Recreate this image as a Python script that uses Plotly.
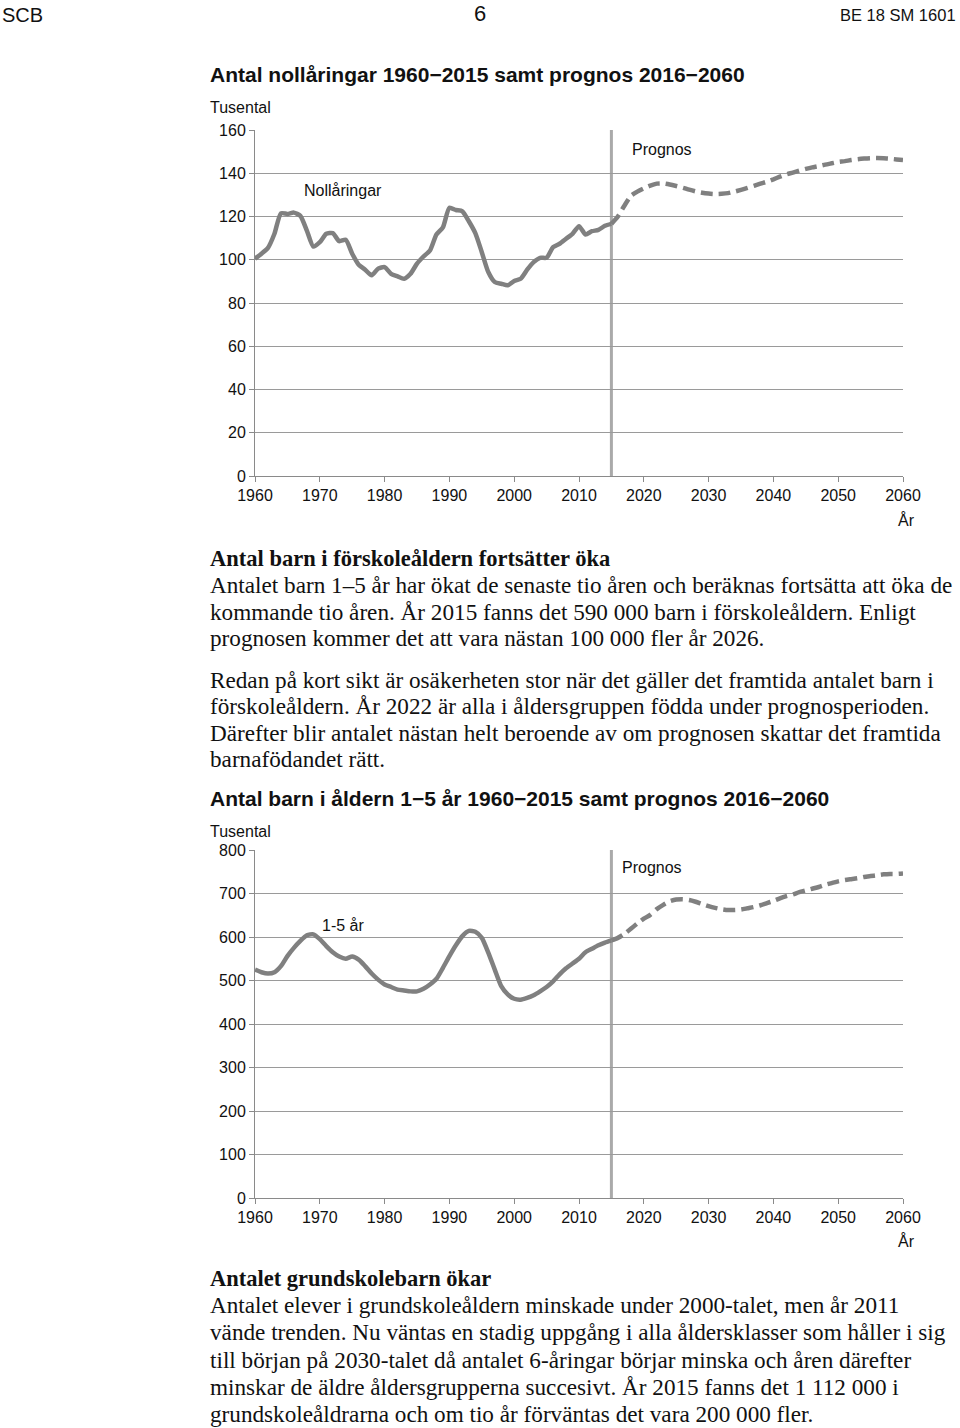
import plotly.graph_objects as go

# --- data (thousands) ---
hist_years = list(range(1960, 2016))
prog_years = list(range(2015, 2061))

nolla_hist = [100.5, 102.8, 105.5, 112.0, 121.5, 121.2, 121.8, 120.3, 113.5, 106.1,
              108.1, 112.0, 112.3, 108.6, 109.2, 102.8, 97.7, 95.4, 92.8, 95.9,
              96.6, 93.5, 92.3, 91.2, 93.5, 98.2, 101.5, 104.3, 111.7, 115.0,
              124.0, 123.0, 122.4, 117.8, 112.3, 103.5, 94.3, 89.7, 88.9, 88.2,
              90.2, 91.2, 95.4, 98.9, 100.9, 100.9, 105.8, 107.4, 109.7, 112.0,
              115.5, 111.7, 113.2, 113.8, 115.7, 116.6]
nolla_prog = [116.6, 120.0, 125.0, 129.5, 131.5, 133.0, 134.3, 135.2, 135.3, 134.8,
              134.1, 133.3, 132.4, 131.6, 131.0, 130.6, 130.4, 130.5, 130.8, 131.5,
              132.3, 133.2, 134.2, 135.2, 136.1, 137.2, 138.4, 139.5, 140.3, 141.2,
              142.0, 142.7, 143.3, 144.0, 144.6, 145.2, 145.6, 146.1, 146.5, 146.8,
              147.0, 147.0, 146.9, 146.7, 146.4, 146.1]

barn_hist = [525, 519, 516, 519, 533, 556, 575, 591, 604, 606,
             595, 579, 565, 555, 550, 555, 548, 533, 516, 502,
             491, 485, 479, 477, 475, 475, 481, 491, 504, 529,
             556, 581, 602, 614, 612, 598, 564, 525, 487, 468,
             458, 456, 460, 466, 475, 485, 498, 514, 528, 539,
             550, 565, 573, 581, 587, 592]
barn_prog = [592, 598, 607, 619, 631, 642, 651, 664, 674, 682,
             686, 687, 685, 681, 676, 671, 667, 664, 662, 662,
             663, 666, 669, 673, 678, 683, 689, 694, 698, 703,
             707, 711, 715, 720, 724, 728, 731, 733, 735, 738,
             740, 742, 744, 745, 745, 746]

decades = [1960, 1970, 1980, 1990, 2000, 2010, 2020, 2030, 2040, 2050, 2060]

W, H = 960, 1428
SANS = "Liberation Sans, Arial, sans-serif"
SERIF = "Liberation Serif, Times New Roman, serif"
LINE = "#808080"
GRID = "#9a9a9a"


def px(x):
    return x / W


def py(y):
    return 1 - y / H


fig = go.Figure()

for xa, ya, hist, prog in [("x", "y", nolla_hist, nolla_prog),
                           ("x2", "y2", barn_hist, barn_prog)]:
    fig.add_trace(go.Scatter(
        x=hist_years, y=hist, xaxis=xa, yaxis=ya, mode="lines",
        line=dict(color=LINE, width=4.5, shape="spline", smoothing=0.6),
        showlegend=False, hoverinfo="skip"))
    fig.add_trace(go.Scatter(
        x=prog_years, y=prog, xaxis=xa, yaxis=ya, mode="lines",
        line=dict(color=LINE, width=4.5, dash="12px,6px", shape="spline", smoothing=0.6),
        showlegend=False, hoverinfo="skip"))
    # start of the forecast
    fig.add_shape(type="line", xref=xa, yref=f"{ya} domain",
                  x0=hist_years[-1], x1=hist_years[-1], y0=0, y1=1,
                  line=dict(color="#aaaaaa", width=3), layer="below")

xcommon = dict(range=[1960, 2060], tickvals=decades, showgrid=False, zeroline=False,
               showline=True, linecolor="#8a8a8a", linewidth=1, ticks="outside",
               ticklen=5, tickcolor="#8a8a8a",
               tickfont=dict(family=SANS, size=16, color="#111"))
ycommon = dict(showgrid=True, gridcolor=GRID, gridwidth=1, zeroline=False,
               showline=True, linecolor="#8a8a8a", linewidth=1, ticks="outside",
               ticklen=5, tickcolor="#8a8a8a",
               tickfont=dict(family=SANS, size=16, color="#111"))

fig.update_layout(
    width=W, height=H, margin=dict(l=0, r=0, t=0, b=0, autoexpand=False),
    paper_bgcolor="white", plot_bgcolor="white",
    xaxis=dict(domain=[px(255), px(903)], anchor="y", **xcommon),
    yaxis=dict(domain=[py(476), py(130)], anchor="x", range=[0, 160], dtick=20, **ycommon),
    xaxis2=dict(domain=[px(255), px(903)], anchor="y2", **xcommon),
    yaxis2=dict(domain=[py(1198), py(850)], anchor="x2", range=[0, 800], dtick=100, **ycommon),
)


def text(x, y, s, size=16, family=SANS, anchor="left", color="#111"):
    fig.add_annotation(x=px(x), y=py(y), xref="paper", yref="paper", text=s,
                       showarrow=False, xanchor=anchor, yanchor="middle",
                       font=dict(family=family, size=size, color=color))


# page header
text(0, 15, "SCB", size=20)
text(480, 14, "6", size=22, anchor="center")
text(958, 15, "BE 18 SM 1601", size=16.5, anchor="right")

# chart 1
text(208, 74, "<b>Antal nollåringar 1960−2015 samt prognos 2016−2060</b>", size=21)
text(208, 108, "Tusental", size=16)
text(302, 191, "Nollåringar", size=16)
text(630, 150, "Prognos", size=16)
text(917, 520, "År", size=16, anchor="right")

# text block 1
body1 = [
    (559, "<b>Antal barn i förskoleåldern fortsätter öka</b>"),
    (585, "Antalet barn 1–5 år har ökat de senaste tio åren och beräknas fortsätta att öka de"),
    (612, "kommande tio åren. År 2015 fanns det 590 000 barn i förskoleåldern. Enligt"),
    (638, "prognosen kommer det att vara nästan 100 000 fler år 2026."),
    (680, "Redan på kort sikt är osäkerheten stor när det gäller det framtida antalet barn i"),
    (706, "förskoleåldern. År 2022 är alla i åldersgruppen födda under prognosperioden."),
    (733, "Därefter blir antalet nästan helt beroende av om prognosen skattar det framtida"),
    (759, "barnafödandet rätt."),
]
for y, s in body1:
    text(208, y, s, size=22.5 if s.startswith("<b>") else 23.2, family=SERIF)

# chart 2
text(208, 798, "<b>Antal barn i åldern 1−5 år 1960−2015 samt prognos 2016−2060</b>", size=21)
text(208, 831, "Tusental", size=16)
text(320, 925, "1-5 år", size=16)
text(620, 868, "Prognos", size=16)
text(917, 1241, "År", size=16, anchor="right")

# text block 2
body2 = [
    (1278, "<b>Antalet grundskolebarn ökar</b>"),
    (1305, "Antalet elever i grundskoleåldern minskade under 2000-talet, men år 2011"),
    (1332, "vände trenden. Nu väntas en stadig uppgång i alla åldersklasser som håller i sig"),
    (1360, "till början på 2030-talet då antalet 6-åringar börjar minska och åren därefter"),
    (1387, "minskar de äldre åldersgrupperna succesivt. År 2015 fanns det 1 112 000 i"),
    (1414, "grundskoleåldrarna och om tio år förväntas det vara 200 000 fler."),
]
for y, s in body2:
    text(208, y, s, size=22.5 if s.startswith("<b>") else 23.2, family=SERIF)

# drop the default 8px page margin so the figure sits at the window's corner
fig.write_html("out.html", config={"displayModeBar": False},
               post_script="document.body.style.margin = '0px';")
